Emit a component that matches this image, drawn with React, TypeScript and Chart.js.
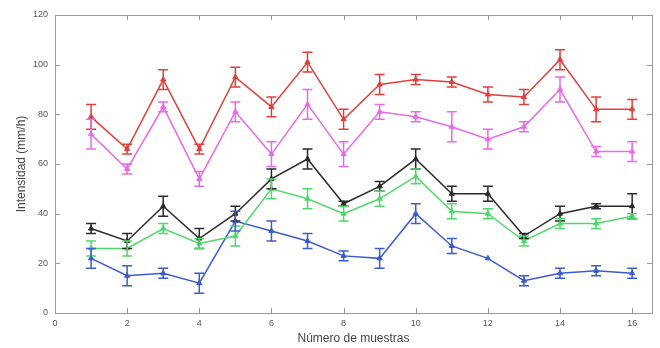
import React, { useEffect, useRef } from "react";
import { Chart, registerables } from "chart.js";

Chart.register(...registerables);

const samples = [1, 2, 3, 4, 5, 6, 7, 8, 9, 10, 11, 12, 13, 14, 15, 16];
const xTicks = [0, 2, 4, 6, 8, 10, 12, 14, 16];
const yTicks = [0, 20, 40, 60, 80, 100, 120];

const redValues = [79, 66, 94, 66, 95, 83, 101, 78, 92, 94, 93, 88, 87, 102, 82, 82];
const redErrors = [5, 2, 4, 2, 4, 4, 4, 4, 4, 2, 2, 3, 3, 4, 5, 4];
const magentaValues = [72, 58, 83, 54, 81, 64, 84, 64, 81, 79, 75, 70, 75, 90, 65, 65];
const magentaErrors = [6, 2, 2, 3, 4, 5, 6, 5, 3, 2, 6, 4, 2, 5, 2, 4];
const blackValues = [34, 29, 43, 30, 40, 54, 62, 44, 51, 62, 48, 48, 31, 40, 43, 43];
const blackErrors = [2, 3, 4, 4, 3, 4, 4, 1, 2, 4, 3, 3, 1, 3, 1, 5];
const greenValues = [26, 26, 34, 28, 31, 50, 46, 40, 46, 55, 41, 40, 29, 36, 36, 39];
const greenErrors = [3, 3, 2, 2, 4, 4, 4, 3, 3, 3, 3, 2, 2, 2, 2, 1];
const blueValues = [22, 15, 16, 12, 37, 33, 29, 23, 22, 40, 27, 22, 13, 16, 17, 16];
const blueErrors = [4, 4, 2, 4, 4, 4, 3, 2, 4, 4, 3, 0, 2, 2, 2, 2];

const series = [
  { name: "S1", values: redValues, errors: redErrors, color: "#e0403a" },
  { name: "S2", values: magentaValues, errors: magentaErrors, color: "#e86ae6" },
  { name: "S3", values: blackValues, errors: blackErrors, color: "#2a2a2a" },
  { name: "S4", values: greenValues, errors: greenErrors, color: "#4fd86a" },
  { name: "S5", values: blueValues, errors: blueErrors, color: "#3b5bd0" },
];

const errorBarPlugin = {
  id: "errorBars",
  afterDatasetsDraw(chart: any) {
    const ctx = chart.ctx;
    const xs = chart.scales.x;
    const ys = chart.scales.y;
    chart.data.datasets.forEach((ds: any) => {
      const errs: number[] = ds.errors;
      ctx.save();
      ctx.strokeStyle = ds.borderColor;
      ctx.lineWidth = 1.5;
      ds.data.forEach((p: any, i: number) => {
        const e = errs[i];
        if (!e) return;
        const px = xs.getPixelForValue(p.x);
        const top = ys.getPixelForValue(p.y + e);
        const bot = ys.getPixelForValue(p.y - e);
        const cap = 5;
        ctx.beginPath();
        ctx.moveTo(px, top);
        ctx.lineTo(px, bot);
        ctx.moveTo(px - cap, top);
        ctx.lineTo(px + cap, top);
        ctx.moveTo(px - cap, bot);
        ctx.lineTo(px + cap, bot);
        ctx.stroke();
      });
      ctx.restore();
    });
  },
};

const boxPlugin = {
  id: "matlabBox",
  afterDraw(chart: any) {
    const ctx = chart.ctx;
    const a = chart.chartArea;
    const xs = chart.scales.x;
    const ys = chart.scales.y;
    ctx.save();
    ctx.strokeStyle = "#9a9a9a";
    ctx.lineWidth = 1;
    ctx.strokeRect(a.left + 0.5, a.top + 0.5, a.right - a.left, a.bottom - a.top);
    ctx.beginPath();
    xTicks.forEach((v) => {
      const px = Math.round(xs.getPixelForValue(v)) + 0.5;
      ctx.moveTo(px, a.bottom);
      ctx.lineTo(px, a.bottom - 5);
      ctx.moveTo(px, a.top);
      ctx.lineTo(px, a.top + 5);
    });
    yTicks.forEach((v) => {
      const py = Math.round(ys.getPixelForValue(v)) + 0.5;
      ctx.moveTo(a.left, py);
      ctx.lineTo(a.left + 5, py);
      ctx.moveTo(a.right, py);
      ctx.lineTo(a.right - 5, py);
    });
    ctx.stroke();
    ctx.restore();
  },
};

export default function App() {
  const ref = useRef<HTMLCanvasElement>(null);
  useEffect(() => {
    if (!ref.current) return;
    const chart = new Chart(ref.current, {
      type: "line",
      data: {
        datasets: series.map((s) => ({
          label: s.name,
          data: s.values.map((v, i) => ({ x: samples[i], y: v })),
          errors: s.errors,
          borderColor: s.color,
          backgroundColor: s.color,
          borderWidth: 1.5,
          pointStyle: "triangle",
          pointRadius: 3,
          pointBorderWidth: 1,
          tension: 0,
        })) as any,
      },
      options: {
        animation: false,
        responsive: false,
        maintainAspectRatio: false,
        layout: { padding: { left: 0, right: 8, top: 15, bottom: 0 } },
        plugins: { legend: { display: false }, tooltip: { enabled: false } },
        scales: {
          x: {
            type: "linear",
            min: 0,
            max: 16.55,
            afterBuildTicks: (s: any) => {
              s.ticks = xTicks.map((v) => ({ value: v }));
            },
            afterFit: (s: any) => {
              s.height = 35;
            },
            grid: { display: false, drawTicks: false },
            border: { display: false },
            ticks: { font: { size: 9, family: "Liberation Sans" }, color: "#555", padding: 5 },
            title: {
              display: true,
              text: "Número de muestras",
              font: { size: 12, family: "Liberation Sans" },
              color: "#444",
              padding: { top: 0, bottom: 2 },
            },
          },
          y: {
            type: "linear",
            min: 0,
            max: 120,
            afterBuildTicks: (s: any) => {
              s.ticks = yTicks.map((v) => ({ value: v }));
            },
            afterFit: (s: any) => {
              s.width = 55;
            },
            grid: { display: false, drawTicks: false },
            border: { display: false },
            ticks: { font: { size: 9, family: "Liberation Sans" }, color: "#555", padding: 7 },
            title: {
              display: true,
              text: "Intensidad (mm/h)",
              font: { size: 12, family: "Liberation Sans" },
              color: "#444",
              padding: { top: 14, bottom: 0 },
            },
          },
        },
      } as any,
      plugins: [errorBarPlugin, boxPlugin],
    });
    return () => chart.destroy();
  }, []);
  return (
    <div style={{ position: "fixed", left: 0, top: 0, width: 660, height: 348, background: "#fff" }}>
      <canvas ref={ref} width={660} height={348} style={{ width: 660, height: 348 }} />
    </div>
  );
}
